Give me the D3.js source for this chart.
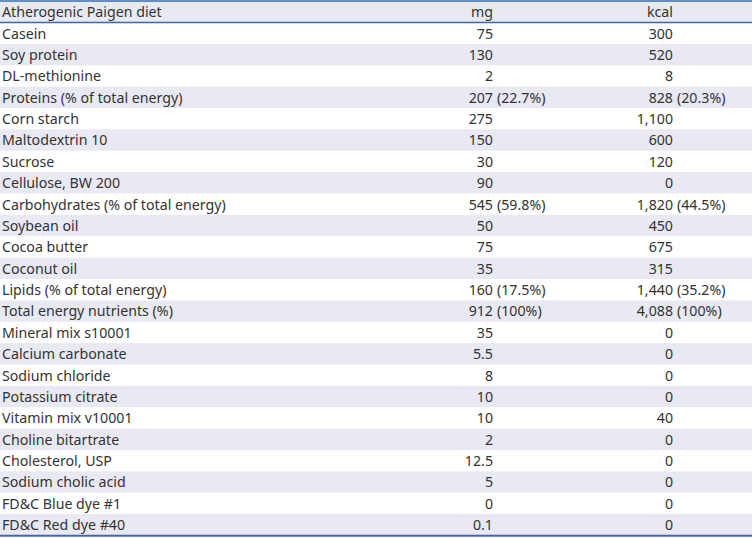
<!DOCTYPE html>
<html><head><meta charset="utf-8">
<script src="https://cdn.jsdelivr.net/npm/d3@7"></script>
<style>html,body{margin:0;padding:0;background:#fff;}svg{display:block;}</style>
</head><body>
<svg id="chart" width="752" height="538"></svg>
<script>
const headers = ["Atherogenic Paigen diet", "mg", "kcal"];
const items = ["Casein","Soy protein","DL-methionine","Proteins (% of total energy)","Corn starch","Maltodextrin 10","Sucrose","Cellulose, BW 200","Carbohydrates (% of total energy)","Soybean oil","Cocoa butter","Coconut oil","Lipids (% of total energy)","Total energy nutrients (%)","Mineral mix s10001","Calcium carbonate","Sodium chloride","Potassium citrate","Vitamin mix v10001","Choline bitartrate","Cholesterol, USP","Sodium cholic acid","FD&C Blue dye #1","FD&C Red dye #40"];
const mgValues = ["75","130","2","207 (22.7%)","275","150","30","90","545 (59.8%)","50","75","35","160 (17.5%)","912 (100%)","35","5.5","8","10","10","2","12.5","5","0","0.1"];
const kcalValues = ["300","520","8","828 (20.3%)","1,100","600","120","0","1,820 (44.5%)","450","675","315","1,440 (35.2%)","4,088 (100%)","0","0","0","0","40","0","0","0","0","0"];

const svg = d3.select("#chart");
const W = 752;
const font = "'Noto Sans', sans-serif";
const fs = 14.2;
const textColor = "#333";
const shade = "#e8e9f3";
const lineColor = "#3b69ad";

const rowIdx = d3.range(items.length);
const y = d3.scaleBand().domain(rowIdx).range([22.5, 535.5]).padding(0);
const headerTop = 1, headerBottom = 22.5;
const colX = {label: 2, mg: 493, kcal: 673};

// header background
svg.append("rect").attr("x",0).attr("y",headerTop).attr("width",W).attr("height",headerBottom-headerTop).attr("fill",shade);
// row stripes
svg.selectAll("rect.row").data(rowIdx.filter(i => i % 2 === 1)).join("rect")
  .attr("class","row").attr("x",0).attr("y",i=>y(i)).attr("width",W).attr("height",y.bandwidth()).attr("fill",shade);

const base = (top, h) => top + h/2 + fs*0.38;

// header text
const hy = base(headerTop, headerBottom-headerTop);
svg.append("text").attr("x",colX.label).attr("y",hy).text(headers[0]);
svg.append("text").attr("x",colX.mg).attr("y",hy).attr("text-anchor","end").text(headers[1]);
svg.append("text").attr("x",colX.kcal).attr("y",hy).attr("text-anchor","end").text(headers[2]);

// labels
svg.selectAll("text.lab").data(items).join("text").attr("class","lab")
  .attr("x",colX.label).attr("y",(d,i)=>base(y(i), y.bandwidth())).text(d=>d);

function numCol(values, x, cls){
  values.forEach((v,i)=>{
    const m = v.match(/^(\S+)(\s+\(.*\))?$/);
    const yy = base(y(i), y.bandwidth());
    svg.append("text").attr("class",cls).attr("x",x).attr("y",yy).attr("text-anchor","end").text(m[1]);
    if (m[2]) svg.append("text").attr("class",cls).attr("x",x+4).attr("y",yy).attr("text-anchor","start").text(m[2].trim());
  });
}
numCol(mgValues, colX.mg, "mg");
numCol(kcalValues, colX.kcal, "kcal");

svg.selectAll("text").attr("font-family",font).attr("font-size",fs).attr("fill",textColor);

// lines
[[headerTop, 1.6],[headerBottom, 1.6],[535.8, 2]].forEach(([yy,w])=>{
  svg.append("line").attr("x1",0).attr("x2",W).attr("y1",yy).attr("y2",yy).attr("stroke",lineColor).attr("stroke-width",w);
});
</script>
</body></html>
